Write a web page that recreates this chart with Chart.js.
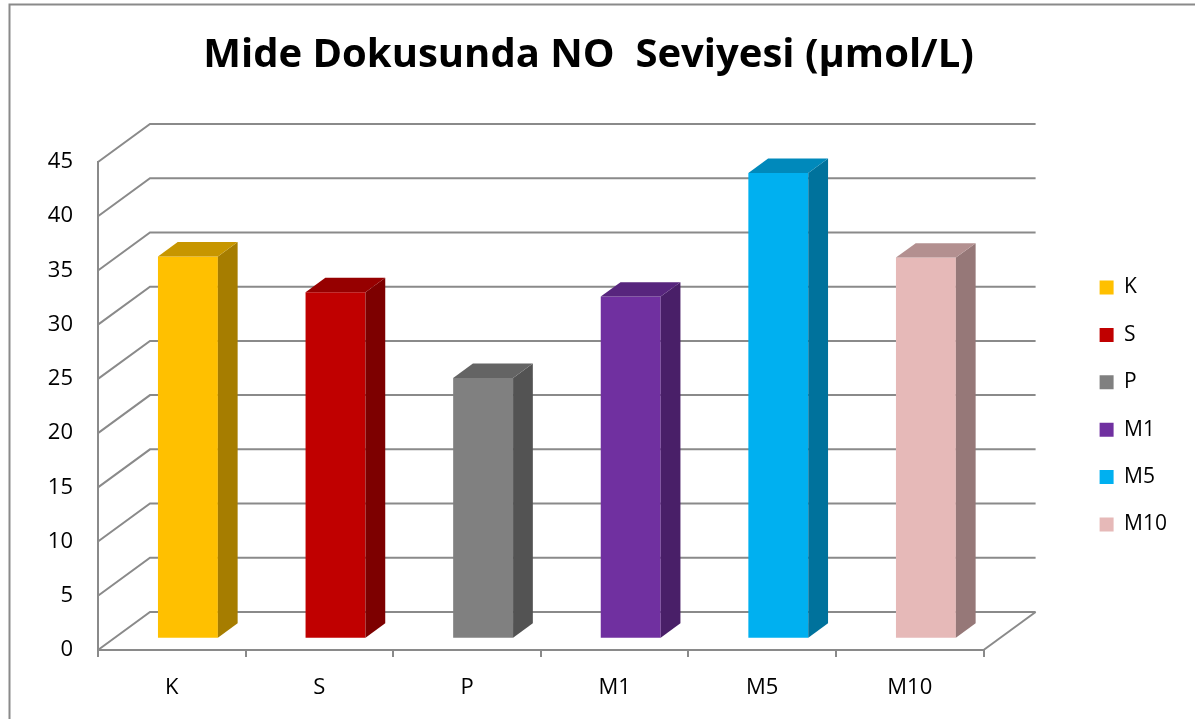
<!DOCTYPE html>
<html>
<head>
<meta charset="utf-8">
<script src="https://cdn.jsdelivr.net/npm/chart.js@4.4.1/dist/chart.umd.min.js"></script>
<style>
  html, body { margin: 0; padding: 0; background: #fff; }
  #wrap { width: 1195px; height: 719px; }
</style>
</head>
<body>
<div id="wrap"><canvas id="noChart"></canvas></div>
<script>
// data
const groups = ['K', 'S', 'P', 'M1', 'M5', 'M10'];
const noLevels = [35.2, 31.9, 24.0, 31.5, 42.9, 35.1];
const yTicks = [0, 5, 10, 15, 20, 25, 30, 35, 40, 45];

const barColors = ['#FFC000', '#C00000', '#808080', '#7030A0', '#00B0F0', '#E6B9B8'];
const lineColor = '#8a8a8a';
const font = 'Open Sans';

// 3D depth of the plot box (px) and where the bars sit in it
const depthX = 52, depthY = -38;
const barFront = 0.31, barBack = 0.69;

function shade(hex, f) {
    const n = parseInt(hex.slice(1), 16);
    const r = Math.round(((n >> 16) & 255) * f);
    const g = Math.round(((n >> 8) & 255) * f);
    const b = Math.round((n & 255) * f);
    return `rgb(${r},${g},${b})`;
}

const threeD = {
    id: 'threeD',
    beforeDraw(chart) {
        const ctx = chart.ctx;
        ctx.save();
        ctx.strokeStyle = lineColor;
        ctx.lineWidth = 2;
        ctx.beginPath();
        ctx.moveTo(9.5, chart.height);
        ctx.lineTo(9.5, 4.5);
        ctx.lineTo(chart.width, 4.5);
        ctx.stroke();
        ctx.restore();
    },
    beforeDatasetsDraw(chart) {
        const ctx = chart.ctx;
        const { left, right, bottom } = chart.chartArea;
        const y = chart.scales.y;
        ctx.save();
        ctx.strokeStyle = lineColor;
        ctx.lineWidth = 2;
        // back wall + side wall gridlines
        yTicks.forEach(v => {
            const py = y.getPixelForValue(v);
            ctx.beginPath();
            ctx.moveTo(left, py);
            ctx.lineTo(left + depthX, py + depthY);
            ctx.lineTo(right + depthX, py + depthY);
            ctx.stroke();
        });
        // right edge of the floor
        ctx.beginPath();
        ctx.moveTo(right, bottom);
        ctx.lineTo(right + depthX, bottom + depthY);
        ctx.stroke();
        ctx.restore();

        // push the bars into the box
        ctx.save();
        ctx.translate(depthX * barFront, depthY * barFront);
    },
    afterDatasetsDraw(chart) {
        const ctx = chart.ctx;
        const dx = depthX * (barBack - barFront);
        const dy = depthY * (barBack - barFront);
        chart.getDatasetMeta(0).data.forEach((bar, i) => {
            const { x, y, base, width } = bar.getProps(['x', 'y', 'base', 'width'], true);
            const l = x - width / 2, r = x + width / 2;
            // side
            ctx.fillStyle = shade(barColors[i], 0.65);
            ctx.beginPath();
            ctx.moveTo(r, y);
            ctx.lineTo(r + dx, y + dy);
            ctx.lineTo(r + dx, base + dy);
            ctx.lineTo(r, base);
            ctx.closePath();
            ctx.fill();
            // top
            ctx.fillStyle = shade(barColors[i], 0.78);
            ctx.beginPath();
            ctx.moveTo(l, y);
            ctx.lineTo(l + dx, y + dy);
            ctx.lineTo(r + dx, y + dy);
            ctx.lineTo(r, y);
            ctx.closePath();
            ctx.fill();
        });
        ctx.restore();
    }
};

const ctx = document.getElementById('noChart').getContext('2d');
new Chart(ctx, {
    type: 'bar',
    data: {
        labels: groups,
        datasets: [{
            data: noLevels,
            backgroundColor: barColors,
            borderWidth: 0,
            barPercentage: 1,
            categoryPercentage: 0.406,
            yAxisID: 'y',
            clip: false
        }]
    },
    options: {
        responsive: true,
        maintainAspectRatio: false,
        animation: false,
        layout: { padding: { left: 0, right: 18, top: 0, bottom: 0 } },
        plugins: {
            title: {
                display: true,
                text: 'Mide Dokusunda NO  Seviyesi (µmol/L)',
                color: '#000',
                font: { family: font, size: 40, weight: 'bold' },
                padding: { top: 32, bottom: 82 }
            },
            legend: {
                position: 'right',
                fullSize: false,
                labels: {
                    boxWidth: 14,
                    boxHeight: 14,
                    padding: 26.4,
                    color: '#000',
                    font: { family: font, size: 21 },
                    generateLabels: () => groups.map((g, i) => ({
                        text: g,
                        fillStyle: barColors[i],
                        strokeStyle: barColors[i],
                        lineWidth: 0,
                        index: i
                    }))
                }
            },
            tooltip: { enabled: false }
        },
        scales: {
            x: {
                grid: { drawOnChartArea: false, drawTicks: true, tickLength: 7, color: lineColor, lineWidth: 2 },
                border: { display: true, color: lineColor, width: 2 },
                ticks: { color: '#000', font: { family: font, size: 22 }, padding: 18 },
                afterFit: s => { s.height = 69; }
            },
            y: {
                min: 0,
                max: 45,
                ticks: { stepSize: 5, color: '#000', font: { family: font, size: 22 }, padding: 25 },
                grid: { drawOnChartArea: false, drawTicks: false },
                border: { display: true, color: lineColor, width: 2 },
                afterFit: s => { s.width = 98; }
            },
            // empty right axis: leaves room for the box depth before the legend
            gap: {
                position: 'right',
                display: true,
                ticks: { display: false },
                grid: { display: false },
                border: { display: false },
                afterFit: s => { s.width = 89.6; }
            }
        }
    },
    plugins: [threeD]
});
</script>
</body>
</html>
